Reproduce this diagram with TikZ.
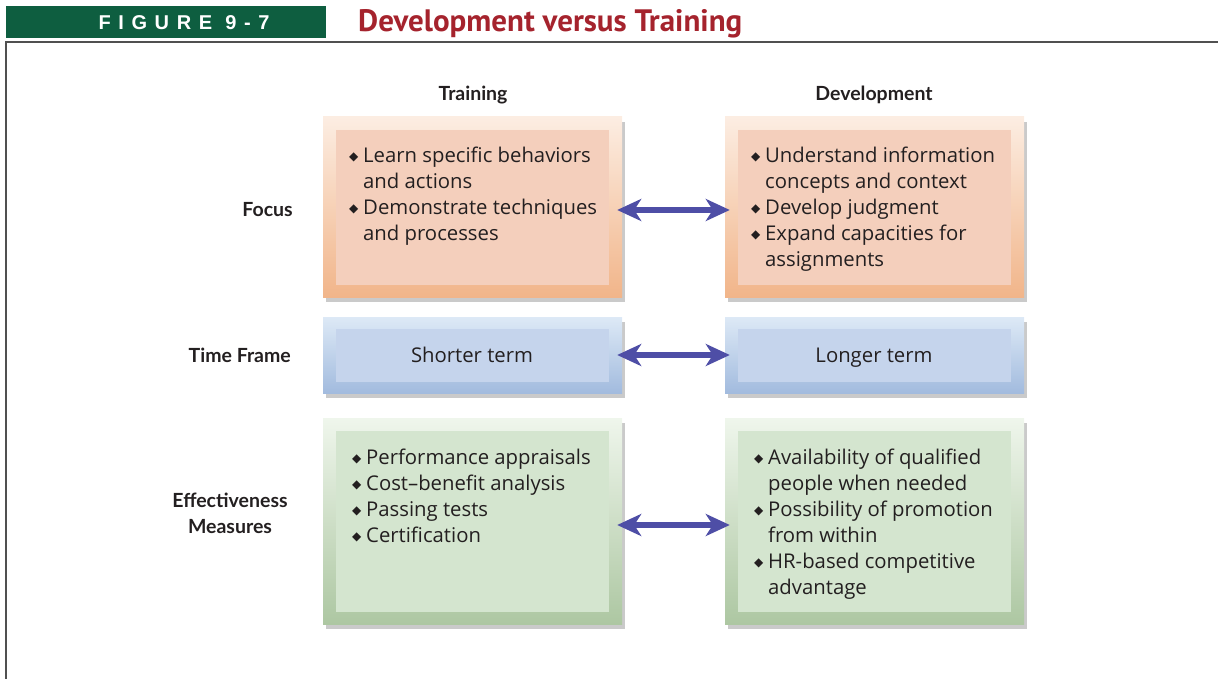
\documentclass[tikz,border=0pt]{standalone}
\usepackage{fontspec}
\setmainfont{Open Sans}
\newfontfamily\dvfont{DejaVu Sans}
\newfontfamily\figfont[LetterSpace=38]{Liberation Sans}
\newfontfamily\titlefont{PT Sans}
\newfontfamily\labelfont{Lato}
\usetikzlibrary{arrows.meta,shadows}
\definecolor{hdrgreen}{HTML}{0E5E40}
\definecolor{titlered}{HTML}{A5232D}
\definecolor{txt}{HTML}{231F20}
\definecolor{orTop}{HTML}{FCEDE2}
\definecolor{orBot}{HTML}{F1B58A}
\definecolor{orIn}{HTML}{F4CFBC}
\definecolor{blTop}{HTML}{DDE9F6}
\definecolor{blBot}{HTML}{A2BBDE}
\definecolor{blIn}{HTML}{C5D4EC}
\definecolor{grTop}{HTML}{EFF6EC}
\definecolor{grBot}{HTML}{ADC7A2}
\definecolor{grIn}{HTML}{D4E5CF}
\definecolor{arrc}{HTML}{4E4EA6}
\definecolor{framec}{HTML}{505050}
\newcommand{\bi}{\makebox[13pt][l]{\hspace*{-1pt}\raisebox{2.5pt}{\dvfont\fontsize{12}{12}\selectfont ◆}}}
\newcommand{\ind}{\hspace*{13pt}}
\begin{document}
\begin{tikzpicture}[x=1pt,y=-1pt,
  outerbox/.style={draw=none,minimum width=299pt,inner sep=0pt,
    drop shadow={shadow xshift=3pt,shadow yshift=-5pt,opacity=0.35,fill=black!60}},
  orange/.style={outerbox,top color=orTop,bottom color=orBot,minimum height=180pt},
  blue/.style={outerbox,top color=blTop,bottom color=blBot,minimum height=76pt},
  green/.style={outerbox,top color=grTop,bottom color=grBot,minimum height=206pt},
  innerbox/.style={draw=none,minimum width=273pt,inner sep=0pt},
  listtext/.style={anchor=north west,inner sep=0pt,align=left,text=txt,
    font=\fontsize{20.3}{26}\selectfont},
  label/.style={font=\labelfont\bfseries\fontsize{19.5}{26}\selectfont,text=txt,inner sep=0pt},
  dblarrow/.style={draw=arrc,line width=6pt,shorten <=-5pt,shorten >=-5pt,
    {Stealth[length=24pt,width=22pt,inset=7pt]}-{Stealth[length=24pt,width=22pt,inset=7pt]}}
]
\useasboundingbox (0,0) rectangle (1218,679);
% header
\fill[hdrgreen] (6,6) rectangle (326,38);
\node[inner sep=0pt,text=white,font=\figfont\bfseries\fontsize{20}{20}\selectfont] (fig) at (184,23) {FIGURE 9-7};
\node[anchor=base west,inner sep=0pt,text=titlered,font=\titlefont\bfseries\fontsize{31}{30}\selectfont] (title) at (358,32) {Development versus Training};
\draw[framec,line width=2pt] (6,679) -- (6,42) -- (1218,42);
% column headers
\node[label] (hTr) at (473,95) {Training};
\node[label] (hDev) at (874,95) {Development};
% row labels
\node[label,anchor=east] (lFocus) at (293,210) {Focus};
\node[label,anchor=east] (lTime) at (291,355) {Time Frame};
\node[label,align=center] (lEff) at (230,513) {Effectiveness\\Measures};
% Focus row
\node[orange] (ft) at (472.5,207) {};
\node[innerbox,fill=orIn,minimum height=155pt] (fti) at (472.5,207.5) {};
\node[orange] (fd) at (874.5,207) {};
\node[innerbox,fill=orIn,minimum height=155pt] (fdi) at (874.5,207.5) {};
\node[listtext] (ftt) at (350,147) {\bi Learn specific behaviors\\\ind and actions\\\bi Demonstrate techniques\\\ind and processes};
\node[listtext] (fdt) at (752,147) {\bi Understand information\\\ind concepts and context\\\bi Develop judgment\\\bi Expand capacities for\\\ind assignments};
% Time row
\node[blue] (tt) at (472.5,355) {};
\node[innerbox,fill=blIn,minimum height=53pt] (tti) at (472.5,355.5) {};
\node[blue] (td) at (874.5,355) {};
\node[innerbox,fill=blIn,minimum height=53pt] (tdi) at (874.5,355.5) {};
\node[anchor=base,text=txt,font=\fontsize{20.3}{26}\selectfont,inner sep=0pt] (ttt) at (472,362) {Shorter term};
\node[anchor=base,text=txt,font=\fontsize{20.3}{26}\selectfont,inner sep=0pt] (tdt) at (874,362) {Longer term};
% Effectiveness row
\node[green] (et) at (472.5,521) {};
\node[innerbox,fill=grIn,minimum height=181pt] (eti) at (472.5,521.5) {};
\node[green] (ed) at (874.5,521) {};
\node[innerbox,fill=grIn,minimum height=181pt] (edi) at (874.5,521.5) {};
\node[listtext] (ett) at (353,449) {\bi Performance appraisals\\\bi Cost--benefit analysis\\\bi Passing tests\\\bi Certification};
\node[listtext] (edt) at (755,449) {\bi Availability of qualified\\\ind people when needed\\\bi Possibility of promotion\\\ind from within\\\bi HR-based competitive\\\ind advantage};
% arrows
\draw[dblarrow] (ft.east |- 0,210) -- (fd.west |- 0,210);
\draw[dblarrow] (tt.east) -- (td.west);
\draw[dblarrow] (et.east |- 0,525) -- (ed.west |- 0,525);
\end{tikzpicture}
\end{document}
